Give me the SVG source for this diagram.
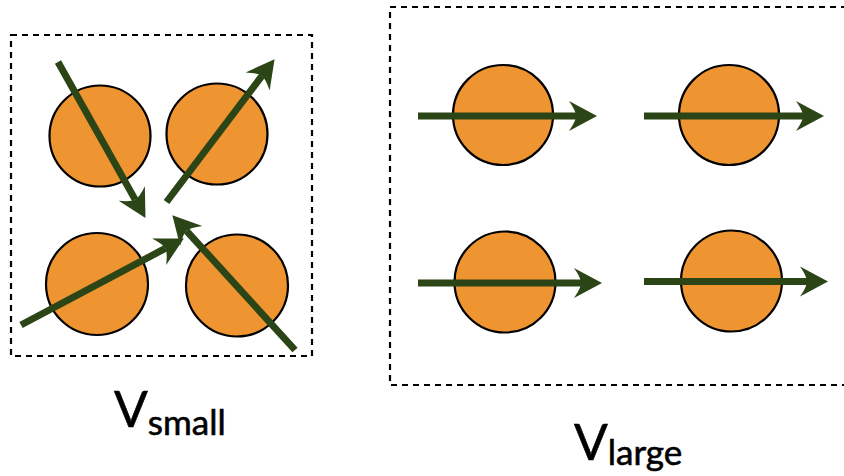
<svg xmlns="http://www.w3.org/2000/svg" width="844" height="476" viewBox="0 0 844 476">
<defs>
<marker id="ah" markerUnits="userSpaceOnUse" markerWidth="60" markerHeight="60" refX="0" refY="0" orient="auto" overflow="visible">
<path d="M21,0 L-7,-15 Q0,-5 0,0 Q0,5 -7,15 Z" fill="#2B4517"/>
</marker>
</defs>
<style>
.box{fill:none;stroke:#000;stroke-width:2.2;stroke-dasharray:6 5}
.ball{fill:#EE9430;stroke:#000;stroke-width:2.2}
.arr{fill:none;stroke:#2B4517;stroke-width:7;marker-end:url(#ah)}
.big{font-family:Lato,"Open Sans",sans-serif;font-size:50px;fill:#000;stroke:#000;stroke-width:0.6}
.sub{font-family:Lato,"Open Sans",sans-serif;font-size:35px}
</style>
<rect class="box" x="11" y="35" width="301" height="321"/>
<rect class="box" x="390" y="7" width="480" height="378"/>
<g id="small-balls">
<circle class="ball" cx="100" cy="136" r="50.5"/>
<circle class="ball" cx="217" cy="134" r="50.5"/>
<circle class="ball" cx="97" cy="284" r="51"/>
<circle class="ball" cx="237" cy="285.5" r="51"/>
</g>
<g id="large-balls">
<circle class="ball" cx="503" cy="115" r="50"/>
<circle class="ball" cx="729" cy="115" r="50"/>
<circle class="ball" cx="505" cy="282" r="50.5"/>
<circle class="ball" cx="731.5" cy="281" r="50.5"/>
</g>
<g id="connectors">
<line class="arr" x1="58" y1="62" x2="135.2" y2="199.6"/>
<line class="arr" x1="166.5" y1="202" x2="261.9" y2="75.9"/>
<line class="arr" x1="21" y1="325" x2="165.3" y2="248.4"/>
<line class="arr" x1="295" y1="350" x2="186.5" y2="230.8"/>
<line class="arr" x1="418" y1="116" x2="576" y2="116"/>
<line class="arr" x1="644" y1="116" x2="803" y2="116"/>
<line class="arr" x1="418" y1="283" x2="581" y2="283"/>
<line class="arr" x1="644" y1="281.5" x2="807" y2="281.5"/>
</g>
<g id="label-small">
<text x="114" y="427" class="big">V<tspan class="sub" dy="8">small</tspan></text>
</g>
<g id="label-large">
<text x="574" y="460" class="big">V<tspan class="sub" dy="5">large</tspan></text>
</g>
</svg>
